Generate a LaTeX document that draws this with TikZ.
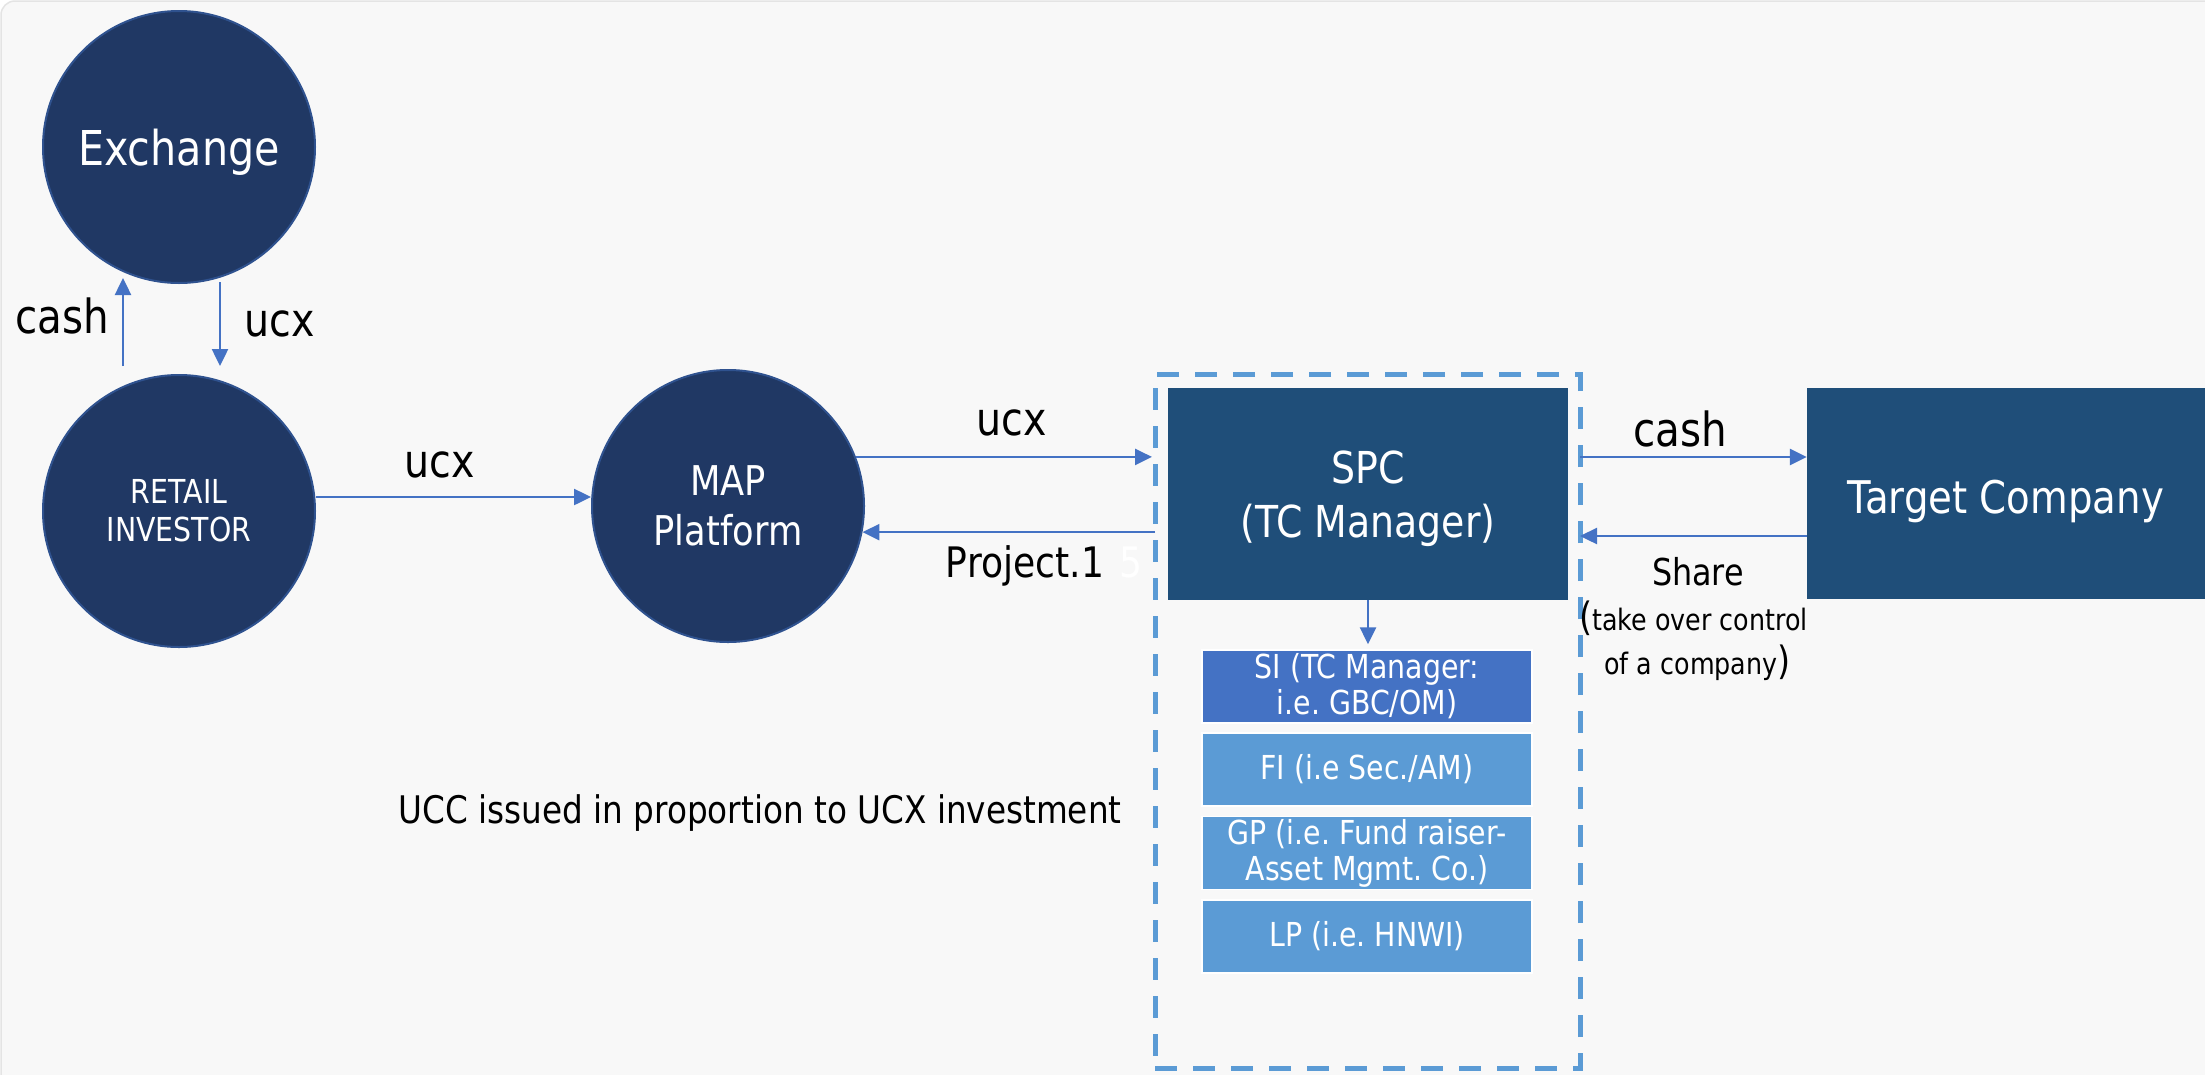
\documentclass[tikz,border=0pt]{standalone}
\usepackage{fontspec}
\setmainfont[FakeStretch=0.86]{DejaVu Sans}
\usetikzlibrary{arrows.meta}
\definecolor{navy}{HTML}{203864}
\definecolor{navyedge}{HTML}{2F528F}
\definecolor{boxblue}{HTML}{1F4E79}
\definecolor{siblue}{HTML}{4472C4}
\definecolor{lightblue}{HTML}{5B9BD5}
\definecolor{arrowblue}{HTML}{4472C4}
\definecolor{bggray}{HTML}{F8F8F8}
\definecolor{bgedge}{HTML}{E4E4E4}
\begin{document}
\frenchspacing
\begin{tikzpicture}[x=1pt,y=-1pt,
  circ/.style={circle, fill=navy, draw=navyedge, line width=2pt, minimum size=272pt, inner sep=0pt, text=white, align=center},
  bluebox/.style={rectangle, fill=boxblue, inner sep=0pt, text=white, align=center},
  subbox/.style={rectangle, draw=white, line width=1.5pt, minimum width=330pt, minimum height=73pt, inner sep=0pt, text=white, align=center, font=\fontsize{33}{36}\selectfont},
  arr/.style={draw=arrowblue, line width=2.5pt, -{Triangle[length=17pt,width=16pt]}},
  lab/.style={anchor=base, text=black, inner sep=0pt},
  grpbox/.style={draw=lightblue, line width=5pt, dash pattern=on 22pt off 16pt, inner sep=0pt, outer sep=0pt}
]
\useasboundingbox (0,0) rectangle (2205,1074);
\fill[white] (0,0) rectangle (2205,1074);
\draw[fill=bggray, draw=bgedge, line width=1.5pt, rounded corners=14pt] (1,1) rectangle (2260,1130);

% group box
\node[grpbox, minimum width=425pt, minimum height=694pt] (grp) at (1367.5,721) {};

% circles
\node[circ, font=\fontsize{48}{58}\selectfont, text depth=0pt] (exchange) at (179,147) {Exchange};
\node[circ, font=\fontsize{33}{38}\selectfont] (retail) at (179,511) {RETAIL\\INVESTOR};
\node[circ, font=\fontsize{41}{50}\selectfont] (map) at (728,506) {MAP\\Platform};

% boxes
\node[bluebox, minimum width=400pt, minimum height=212pt, font=\fontsize{44}{54}\selectfont, text depth=0pt] (spc) at (1368,494) {SPC\\(TC Manager)};
\node[bluebox, minimum width=398pt, minimum height=211pt, font=\fontsize{45}{54}\selectfont, text depth=0pt, text height=39pt] (tc) at (2006,493.5) {Target Company};

\node[subbox, fill=siblue] (si) at (1367,686.5) {SI (TC Manager:\\i.e. GBC/OM)};
\node[subbox, fill=lightblue] (fi) at (1367,769.5) {FI (i.e Sec./AM)};
\node[subbox, fill=lightblue] (gp) at (1367,853) {GP (i.e. Fund raiser-\\Asset Mgmt. Co.)};
\node[subbox, fill=lightblue] (lp) at (1367,936.5) {LP (i.e. HNWI)};

% labels
\node[lab, font=\fontsize{47}{56}\selectfont] (lcash) at (62,333) {cash};
\node[lab, font=\fontsize{46}{56}\selectfont] (lucx) at (280,336) {ucx};
\node[lab, font=\fontsize{46}{56}\selectfont] (rucx) at (440,477) {ucx};
\node[lab, font=\fontsize{46}{56}\selectfont] (mucx) at (1012,435) {ucx};
\node[lab, font=\fontsize{42}{50}\selectfont] (proj) at (1025,577) {Project.1};
\node[lab, font=\fontsize{42}{50}\selectfont, text=white] (five) at (1131,577) {5};
\node[lab, font=\fontsize{47}{56}\selectfont] (tcash) at (1680,446) {cash};
\node[lab, font=\fontsize{37}{44}\selectfont] (share) at (1698,585) {Share};
\node[lab, font=\fontsize{29.5}{44}\selectfont] (take) at (1693.5,630) {{\fontsize{39}{44}\selectfont(}take over control};
\node[lab, font=\fontsize{29.5}{44}\selectfont] (ofco) at (1697.5,674) {of a company{\fontsize{39}{44}\selectfont)}};
\node[lab, font=\fontsize{38}{46}\selectfont] (ucc) at (760,823) {UCC issued in proportion to UCX investment};

% connectors
\draw[arr] ([xshift=-56pt,yshift=8pt]retail.north) -- ([xshift=-56pt,yshift=6pt]exchange.south);
\draw[arr] ([xshift=41pt,yshift=2pt]exchange.south) -- ([xshift=41pt,yshift=8pt]retail.north);
\draw[arr] ([yshift=14pt]retail.east) -- ([yshift=14pt]retail.east -| map.west);
\draw[arr, shorten >=3pt] (map.21.41) -- (map.21.41 -| grp.west);
\draw[arr] (map.-11.37 -| grp.west) -- (map.-11.37);
\draw[arr, shorten >=5pt] (spc.south) -- (spc.south |- si.north);
\coordinate (cashT) at ([yshift=36.5pt]tc.west);
\coordinate (shareT) at ([yshift=-42.5pt]tc.west);
\draw[arr] (cashT -| grp.east) -- (cashT);
\draw[arr] (shareT) -- (shareT -| grp.east);
\end{tikzpicture}
\end{document}
